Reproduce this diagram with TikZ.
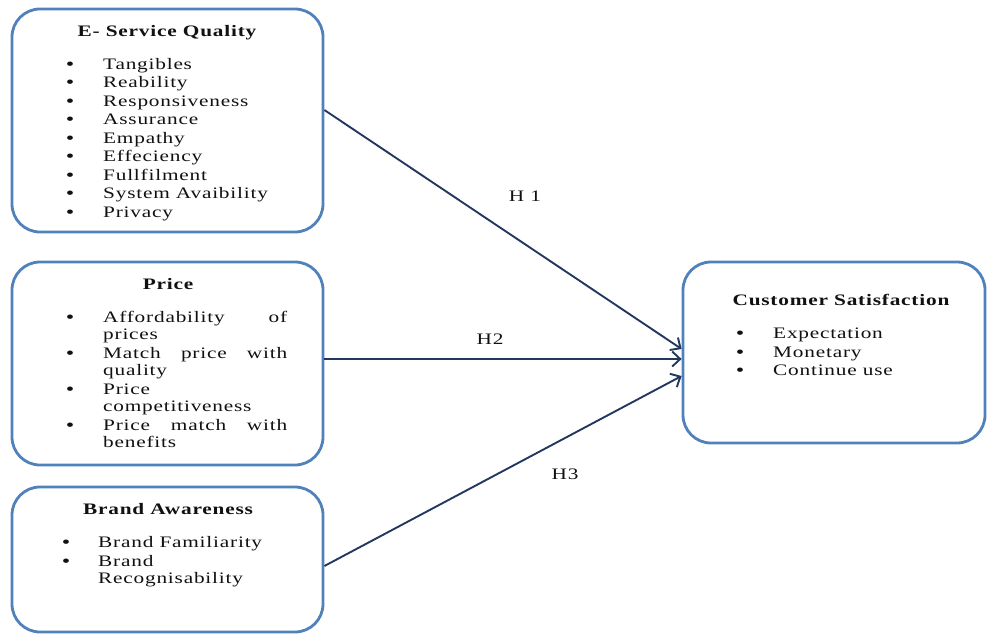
\documentclass[tikz,border=0pt]{standalone}
\usepackage{fontspec}
\setmainfont{Liberation Serif}[FakeStretch=1.33,LetterSpace=5]
\usetikzlibrary{arrows.meta,calc}
\definecolor{boxblue}{HTML}{4F81BD}
\definecolor{arrc}{HTML}{22385E}
\definecolor{txtc}{HTML}{111111}
\newcommand{\fs}{\fontsize{16}{18}\selectfont}
\begin{document}
\begin{tikzpicture}[x=1pt,y=-1pt,
  box/.style={draw=boxblue, line width=2.8pt, rounded corners=28pt, fill=white, inner sep=0pt},
  lbl/.style={anchor=base west, inner sep=0pt, font=\fs, text=txtc},
  ttl/.style={anchor=base, inner sep=0pt, font=\fs\bfseries, text=txtc},
  bul/.style={anchor=base, inner sep=0pt, font=\fs\bfseries, text=txtc},
  hlab/.style={inner sep=0pt, font=\fs, text=txtc},
  arr/.style={draw=arrc, line width=1.9pt, -{Straight Barb[length=8pt,width=15pt]}}]
\useasboundingbox (0,0) rectangle (987,637);
% boxes
\node[box, minimum width=311pt, minimum height=223pt] (esq) at (167.5,120.5) {};
\node[box, minimum width=311pt, minimum height=203pt] (pr) at (167.5,363.5) {};
\node[box, minimum width=311pt, minimum height=145pt] (ba) at (167.5,559.5) {};
\node[box, minimum width=302pt, minimum height=181pt] (cs) at (834,352.5) {};
% E-Service Quality
\node[ttl] (t1) at (167,36) {E- Service Quality};
\foreach \n/\y/\t in {1/69/Tangibles, 2/87.5/Reability, 3/106/Responsiveness, 4/124.5/Assurance, 5/143/Empathy, 6/161.5/Effeciency, 7/180/Fullfilment, 8/198.5/System Avaibility, 9/217/Privacy}{
  \node[bul] (b1\n) at (70,\y) {•};
  \node[lbl] (e\n) at (103,\y) {\t};
}
% Price
\node[ttl] (t2) at (168,289) {Price};
\node[bul] (b21) at (70,322) {•};
\node[lbl] (p1) at (103,322) {\makebox[184pt][s]{Affordability of}};
\node[lbl] (p1b) at (103,339) {prices};
\node[bul] (b22) at (70,358) {•};
\node[lbl] (p2) at (103,358) {\makebox[184pt][s]{Match price with}};
\node[lbl] (p2b) at (103,375) {quality};
\node[bul] (b23) at (70,394) {•};
\node[lbl] (p3) at (103,394) {Price};
\node[lbl] (p3b) at (103,411) {competitiveness};
\node[bul] (b24) at (70,430) {•};
\node[lbl] (p4) at (103,430) {\makebox[184pt][s]{Price match with}};
\node[lbl] (p4b) at (103,447) {benefits};
% Brand Awareness
\node[ttl] (t3) at (168,514) {Brand Awareness};
\node[bul] (b31) at (66,547) {•};
\node[lbl] (a1) at (98,547) {Brand Familiarity};
\node[bul] (b32) at (66,566) {•};
\node[lbl] (a2) at (98,566) {Brand};
\node[lbl] (a2b) at (98,583) {Recognisability};
% Customer Satisfaction
\node[ttl] (t4) at (841,305) {Customer Satisfaction};
\node[bul] (b41) at (740,338) {•};
\node[lbl] (c1) at (773,338) {Expectation};
\node[bul] (b42) at (740,357) {•};
\node[lbl] (c2) at (773,357) {Monetary};
\node[bul] (b43) at (740,375) {•};
\node[lbl] (c3) at (773,375) {Continue use};
% arrows
\draw[arr] ([yshift=10.5pt]esq.east) -- ([yshift=3.5pt]cs.west);
\draw[arr] ([yshift=4.5pt]pr.east) -- ([yshift=-6.5pt]cs.west);
\draw[arr] ([yshift=-6.5pt]ba.east) -- ([yshift=-23.5pt]cs.west);
% labels
\node[hlab] (h1) at (525,196) {H 1};
\node[hlab] (h2) at (490,339) {H2};
\node[hlab] (h3) at (565,474) {H3};
\end{tikzpicture}
\end{document}
